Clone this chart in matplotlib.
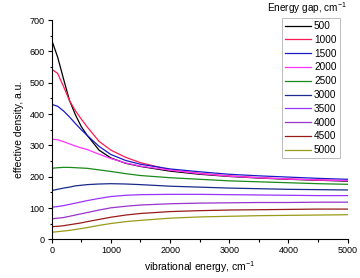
import numpy as np
import matplotlib.pyplot as plt

plt.rcParams['font.family'] = ['Liberation Sans', 'DejaVu Sans']
plt.rcParams['mathtext.fontset'] = 'custom'
plt.rcParams['mathtext.rm'] = 'Liberation Sans'

energy = [0, 100, 200, 300, 400, 500, 600, 800, 1000, 1250, 1500,
          2000, 2500, 3000, 3500, 4000, 4500, 5000]

gaps = ['500', '1000', '1500', '2000', '2500', '3000', '3500', '4000', '4500', '5000']

gap_500 = [636, 582, 512, 444, 398, 360, 332, 285, 260, 243, 233, 218, 208, 201, 196, 192, 189, 186]
gap_1000 = [543, 530, 488, 443, 411, 384, 359, 313, 285, 262, 245, 222, 211, 203, 197, 193, 190, 188]
gap_1500 = [431, 425, 410, 391, 370, 350, 332, 297, 271, 252, 240, 225, 216, 208, 203, 199, 195, 192]
gap_2000 = [320, 318, 312, 305, 298, 292, 287, 272, 258, 244, 234, 221, 210, 202, 197, 193, 190, 188]
gap_2500 = [227, 229, 230, 230, 229, 228, 227, 222, 217, 210, 204, 197, 192, 187, 184, 181, 178, 176]
gap_3000 = [156, 160, 164, 167, 171, 173, 175, 177, 178, 177, 175, 170, 167, 164, 162, 160, 159, 158]
gap_3500 = [103, 105, 108, 112, 116, 120, 124, 131, 137, 141, 143, 144, 144, 143, 142, 141, 140, 140]
gap_4000 = [66, 68, 70, 74, 78, 82, 86, 94, 101, 106, 110, 114, 116, 117, 118, 118, 119, 119]
gap_4500 = [41, 42, 44, 47, 50, 53, 57, 64, 71, 78, 83, 89, 92, 94, 95, 96, 97, 97]
gap_5000 = [23, 25, 27, 29, 32, 35, 38, 45, 51, 57, 61, 68, 72, 74, 76, 77, 78, 79]

series = [gap_500, gap_1000, gap_1500, gap_2000, gap_2500,
          gap_3000, gap_3500, gap_4000, gap_4500, gap_5000]
colors = ['#000000', '#ff1a55', '#1a1acc', '#ff33ff', '#1a8a1a',
          '#1a2a8a', '#9933ff', '#9933cc', '#991a1a', '#9a9a1a']

fig = plt.figure(figsize=(3.6, 2.78), dpi=100)
ax = fig.add_axes([0.1436, 0.1385, 0.8222, 0.7895])

for vals, lab, c in zip(series, gaps, colors):
    ax.plot(energy, vals, color=c, lw=0.9, label=lab)

ax.set_xlim(0, 5000)
ax.set_ylim(0, 700)
ax.set_xticks(np.arange(0, 5001, 1000))
ax.set_xticks(np.arange(500, 5000, 1000), minor=True)
ax.set_yticks(np.arange(0, 701, 100))
ax.set_yticks(np.arange(50, 700, 100), minor=True)
ax.spines['top'].set_visible(False)
ax.spines['right'].set_visible(False)
ax.tick_params(which='major', direction='out', length=3, width=0.8, labelsize=6.5, pad=2)
ax.tick_params(which='minor', direction='out', length=1.8, width=0.8)

ax.set_xlabel('vibrational energy, cm$^{-1}$', fontsize=7.5, labelpad=3)
ax.set_ylabel('effective density, a.u.', fontsize=7.5, labelpad=4)

leg = ax.legend(loc='upper left', bbox_to_anchor=(282 / 360, 1 - 18 / 278),
                bbox_transform=fig.transFigure, fontsize=7.2, frameon=True,
                fancybox=False, edgecolor='#aaaaaa', handlelength=2.6,
                handletextpad=0.3, labelspacing=0.38, borderpad=0.3,
                borderaxespad=0)
leg.get_frame().set_linewidth(0.7)

fig.text(0.964, 0.97, 'Energy gap, cm$^{-1}$', fontsize=7.2, ha='right', va='center')

fig.savefig('out.png', dpi=100)
